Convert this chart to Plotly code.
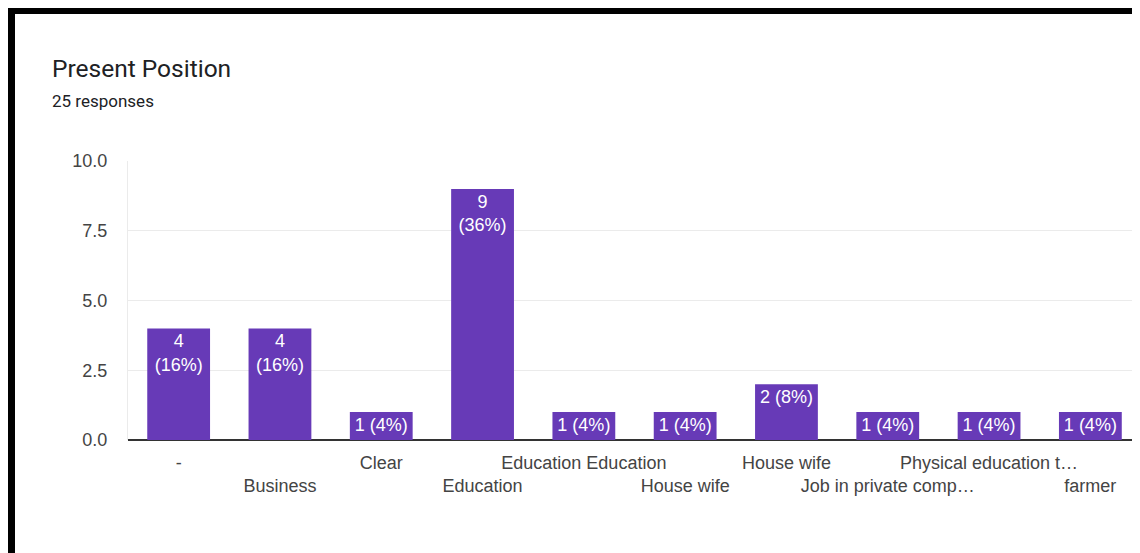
import plotly.graph_objects as go

# ---- data ----
categories = ["-", "Business", "Clear", "Education", "Education Education",
              "House wife", "House wife", "Job in private comp\u2026",
              "Physical education t\u2026", "farmer"]
counts = [4, 4, 1, 9, 1, 1, 2, 1, 1, 1]
total_responses = 25
y_ticks = [0, 2.5, 5, 7.5, 10]

title_text = "Present Position"
subtitle_text = f"{total_responses} responses"

# ---- derived ----
xs = list(range(len(categories)))
labels = []
for v in counts:
    pct = round(v / total_responses * 100)
    sep = "<br>" if v >= 3 else " "
    labels.append(f"{v}{sep}({pct}%)")
# alternate label rows, like the original chart
ticktext = [c if i % 2 == 0 else " <br>" + c for i, c in enumerate(categories)]

# page body has an 8px margin; work in reference pixels and shift
OFF = 8
W, H = 1140 - OFF, 553 - OFF
L, R = 128 - OFF, 0
T = 161 - OFF
B = H - (440 - OFF)
pw = W - L - R
ph = H - T - B

def px2x(px):
    return (px - OFF - L) / pw

def py2y(py):
    return (H - B - (py - OFF)) / ph

font_family = "Arial, 'Liberation Sans', sans-serif"

fig = go.Figure(go.Bar(
    x=xs, y=counts, text=labels,
    textposition="inside", insidetextanchor="end", constraintext="none",
    textfont=dict(color="white", size=18, family=font_family),
    marker=dict(color="#673ab7", line=dict(width=0)),
    width=0.62,
    hoverinfo="skip",
))

fig.update_layout(
    width=W, height=H,
    margin=dict(l=L, r=R, t=T, b=B, pad=0),
    paper_bgcolor="white", plot_bgcolor="white",
    showlegend=False,
    xaxis=dict(
        range=[-0.5, 9.49], tickvals=xs, ticktext=ticktext, tickangle=0,
        tickfont=dict(size=18, color="#444444", family=font_family),
        showgrid=False, zeroline=False, showline=False, automargin=False,
        ticks="", ticklabelstandoff=10, fixedrange=True,
    ),
    yaxis=dict(
        range=[0, 10], tickvals=y_ticks, tickformat=".1f",
        tickfont=dict(size=18, color="#444444", family=font_family),
        showgrid=True, gridcolor="#ebebeb", gridwidth=1,
        zeroline=True, zerolinecolor="#333333", zerolinewidth=2,
        showline=True, linecolor="#ebebeb", linewidth=1, automargin=False,
        ticks="", ticklabelstandoff=16, fixedrange=True,
    ),
    shapes=[
        dict(type="rect", xref="paper", yref="paper",
             x0=px2x(5), x1=px2x(15), y0=py2y(553), y1=py2y(6),
             fillcolor="black", line=dict(width=0), layer="above"),
        dict(type="rect", xref="paper", yref="paper",
             x0=px2x(5), x1=px2x(1140), y0=py2y(14), y1=py2y(6),
             fillcolor="black", line=dict(width=0), layer="above"),
    ],
    annotations=[
        dict(text=title_text, xref="paper", yref="paper",
             x=px2x(50), y=py2y(68), xanchor="left", yanchor="middle",
             showarrow=False,
             font=dict(size=24.5, color="#202124", family="Roboto")),
        dict(text=subtitle_text, xref="paper", yref="paper",
             x=px2x(50), y=py2y(101), xanchor="left", yanchor="middle",
             showarrow=False,
             font=dict(size=17, color="#202124", family="Roboto")),
    ],
)

fig.write_html("out.html", config={"displayModeBar": False})
